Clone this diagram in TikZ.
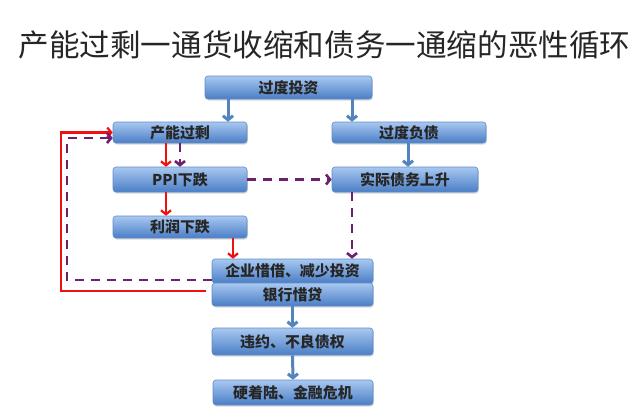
\documentclass[tikz,border=0pt]{standalone}
\usepackage{fontspec}
\setmainfont{Noto Sans CJK SC}
\usepackage{tikz}
\usetikzlibrary{calc}
\usetikzlibrary{arrows.meta}
\usetikzlibrary{shadows}
\definecolor{boxtop}{RGB}{168, 200, 240}
\definecolor{boxbottom}{RGB}{74, 126, 198}
\definecolor{boxline}{RGB}{96, 140, 198}
\definecolor{steelarrow}{RGB}{84, 132, 190}
\definecolor{loopred}{RGB}{240, 16, 16}
\definecolor{plum}{RGB}{112, 30, 112}

\tikzset{
  flowbox/.style={draw=boxline, line width=0.6bp, rounded corners=3bp,
                  top color=boxtop, bottom color=boxbottom, inner sep=0pt,
                  font=\fontsize{15}{17}\selectfont\bfseries, text=black!85,
                  drop shadow={opacity=0.3, shadow xshift=0.8bp, shadow yshift=-1.5bp}},
  bluearrow/.style={steelarrow, line width=3bp, -{Straight Barb[length=4bp, width=10bp]}},
  redarrow/.style={loopred, line width=2.2bp, -{Straight Barb[length=4bp, width=10bp]}},
  plumarrow/.style={plum, line width=2.6bp, dash pattern=on 9bp off 7bp,
                    -{Straight Barb[length=4bp, width=10bp]}},
}

\begin{document}
\begin{tikzpicture}[x=1bp, y=-1bp]
            \useasboundingbox (0,0) rectangle (640,416);
            % Title
            \node[text=black!85] (title) at (324.5,45) {\fontsize{30.7}{34}\selectfont 产能过剩一通货收缩和债务一通缩的恶性循环};
            % Boxes
            \node[flowbox, minimum width=167bp, minimum height=23bp] (invest)   at (288.5, 87.5) {过度投资};
            \node[flowbox, minimum width=134bp, minimum height=21bp] (overcap)  at (180.0,132.5) {产能过剩};
            \node[flowbox, minimum width=154bp, minimum height=21bp] (debt)     at (409.0,132.5) {过度负债};
            \node[flowbox, minimum width=134bp, minimum height=25bp] (ppi)      at (180.0,179.5) {PPI下跌};
            \node[flowbox, minimum width=146bp, minimum height=25bp] (realdebt) at (405.0,179.5) {实际债务上升};
            \node[flowbox, minimum width=134bp, minimum height=22bp] (profit)   at (180.0,227.0) {利润下跌};
            \node[flowbox, minimum width=161bp, minimum height=24bp] (firm)     at (292.5,271.0) {企业惜借、减少投资};
            \node[flowbox, minimum width=161bp, minimum height=23bp] (bank)     at (292.5,294.5) {银行惜贷};
            \node[flowbox, minimum width=161bp, minimum height=27bp] (default)  at (292.5,341.5) {违约、不良债权};
            \node[flowbox, minimum width=160bp, minimum height=25bp] (crisis)   at (293.0,392.5) {硬着陆、金融危机};
            % Arrow columns
            \coordinate (colA) at (228,0);
            \coordinate (colB) at (352,0);
            \coordinate (colC) at (408,0);
            \coordinate (colD) at (166,0);
            \coordinate (colE) at (233,0);
            \coordinate (redx) at (61,0);
            \coordinate (plumx) at (67,0);
            % Blue chain
            \draw[bluearrow] (invest.south -| colA) -- (overcap.north -| colA);
            \draw[bluearrow] (invest.south -| colB) -- (debt.north -| colB);
            \draw[bluearrow] (debt.south -| colC) -- (realdebt.north -| colC);
            \draw[bluearrow] (bank.south) -- (default.north);
            \draw[bluearrow] (default.south) -- (crisis.north);
            % Red chain
            \draw[redarrow] (overcap.south -| colD) -- (ppi.north -| colD);
            \draw[redarrow] (ppi.south -| colD) -- (profit.north -| colD);
            \draw[redarrow] (profit.south -| colE) -- (firm.north -| colE);
            \draw[redarrow, shorten <=6bp] ([yshift=3.5bp]bank.west) -| (redx |- overcap.west) -- (overcap.west);
            % Purple chain
            \coordinate (plumin) at ([yshift=-5.5bp]overcap.west);
            \draw[plumarrow] (overcap.south) -- (ppi.north);
            \draw[plumarrow] (ppi.east) -- (realdebt.west);
            \draw[plumarrow] (realdebt.south -| colB) -- (firm.north -| colB);
            \draw[plumarrow] ([yshift=-9bp]firm.west) -| (plumx |- plumin) -- (plumin);
\end{tikzpicture}
\end{document}
